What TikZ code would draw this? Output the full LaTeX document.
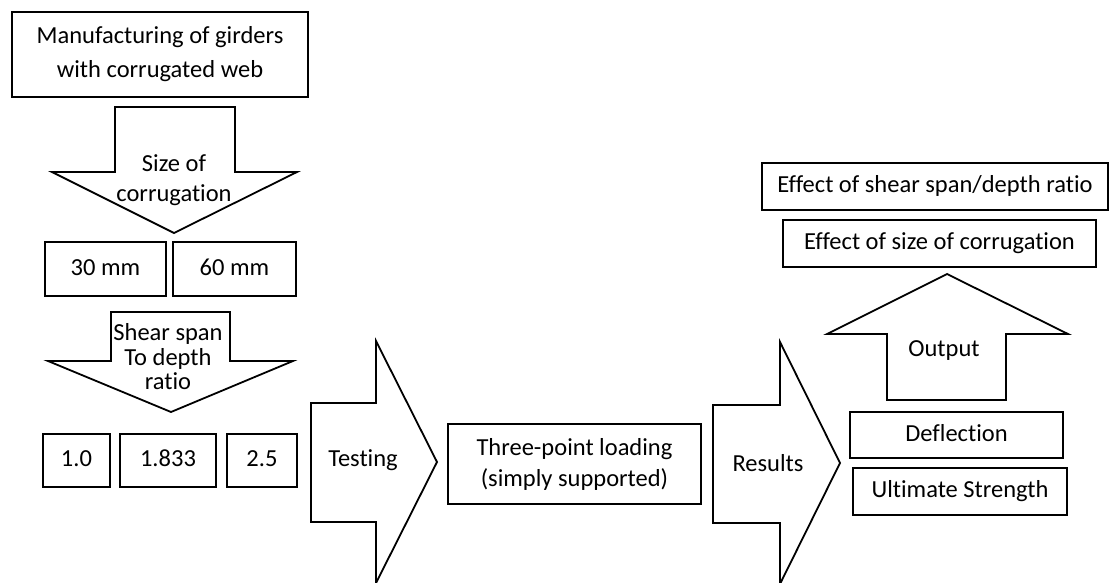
\documentclass[tikz,border=0pt]{standalone}
\usepackage{fontspec}
\setmainfont{Carlito}[Ligatures = CommonOff]
\tikzset{
	box/.style = {draw, line width = 1.8pt, inner sep = 0pt, align = center},
	onebox/.style = {box, text height = 17pt, text depth = 5pt},
	blockarrow/.style = {draw, line width = 1.8pt, line join = miter, fill = white},
	arrowtext/.style = {align = center, inner sep = 0pt},
}
\begin{document}
\begin{tikzpicture} [x = 1pt, y = -1pt, font = \fontsize{24.5}{28}\selectfont]
	\useasboundingbox (0, 0) rectangle (1110, 583) ;
	
	% left column
	\node [box, minimum width = 296pt, minimum height = 85pt, font = \fontsize{24.5}{34}\selectfont] (manuf) at (160, 54.5) {Manufacturing of girders\\with corrugated web} ;
	\draw [blockarrow] (115, 107) -- (235, 107) -- (235, 172) -- (297, 172) -- (174, 233) -- (52, 172) -- (115, 172) -- cycle ;
	\node [arrowtext, font = \fontsize{24.5}{30}\selectfont] (size) at (174, 180) {Size of\\corrugation} ;
	\node [onebox, minimum width = 121pt, minimum height = 54pt] (thirty) at (105.5, 269) {30 mm} ;
	\node [onebox, minimum width = 123pt, minimum height = 54pt] (sixty) at (234.5, 269) {60 mm} ;
	
	\draw [blockarrow] (111, 312) -- (230, 312) -- (230, 361) -- (293, 361) -- (171, 412) -- (48, 361) -- (111, 361) -- cycle ;
	\node [arrowtext, font = \fontsize{24.5}{24.5}\selectfont] (ratio) at (168, 357) {Shear span\\To depth\\ratio} ;
	\node [onebox, minimum width = 67pt, minimum height = 53pt] (one) at (76.5, 460.5) {1.0} ;
	\node [onebox, minimum width = 96pt, minimum height = 53pt] (mid) at (168, 460.5) {1.833} ;
	\node [onebox, minimum width = 70pt, minimum height = 53pt] (two) at (262, 460.5) {2.5} ;
	
	% testing and results
	\draw [blockarrow] (311, 403) -- (376, 403) -- (376, 341) -- (437, 462) -- (376, 583) -- (376, 522) -- (311, 522) -- cycle ;
	\node [arrowtext] (testing) at (363, 460) {Testing} ;
	\node [box, minimum width = 253pt, minimum height = 80pt, font = \fontsize{24.5}{31}\selectfont] (loading) at (574.5, 464) {Three-point loading\\(simply supported)} ;
	\draw [blockarrow] (713, 405) -- (780, 405) -- (780, 342) -- (840, 463) -- (780, 584) -- (780, 523) -- (713, 523) -- cycle ;
	\node [arrowtext] (results) at (768, 463) {Results} ;
	
	% outputs
	\node [onebox, minimum width = 213pt, minimum height = 46pt] (deflection) at (956.5, 435) {Deflection} ;
	\node [onebox, minimum width = 214pt, minimum height = 47pt] (strength) at (960, 491.5) {Ultimate Strength} ;
	\draw [blockarrow] (887, 400) -- (887, 334) -- (827, 334) -- (947, 274) -- (1068, 334) -- (1006, 334) -- (1006, 400) -- cycle ;
	\node [arrowtext] (output) at (944, 351) {Output} ;
	\node [onebox, minimum width = 313pt, minimum height = 47pt] (effsize) at (939.5, 243.5) {Effect of size of corrugation} ;
	\node [onebox, minimum width = 346pt, minimum height = 47pt] (effspan) at (935, 186.5) {Effect of shear span/depth ratio} ;
	
\end{tikzpicture}
\end{document}
